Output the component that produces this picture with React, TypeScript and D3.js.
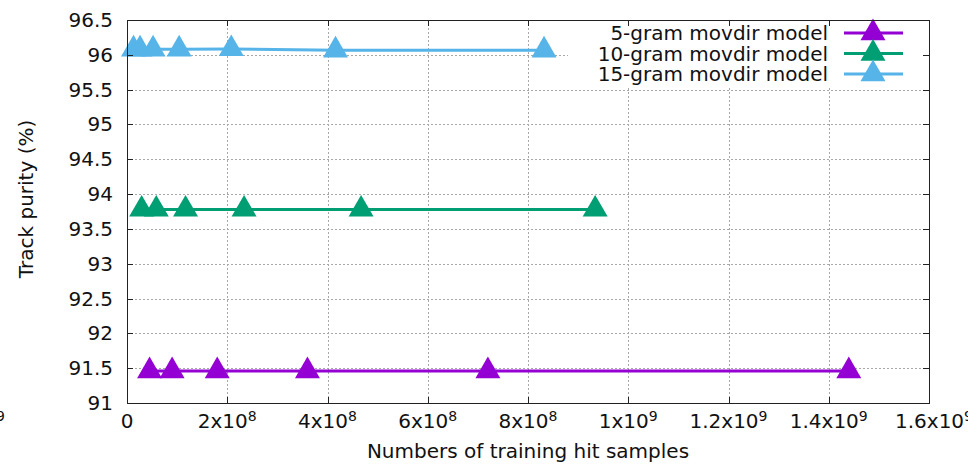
import React, { useEffect, useRef } from 'react';
import * as d3 from 'd3';

// training hit samples per model, doubling each step
const fiveGramX = [4.5e7, 9e7, 1.8e8, 3.6e8, 7.2e8, 1.44e9];
const fiveGramY = [91.46, 91.46, 91.46, 91.46, 91.46, 91.46];

const tenGramX = [2.92e7, 5.84e7, 1.168e8, 2.336e8, 4.67e8, 9.34e8];
const tenGramY = [93.78, 93.78, 93.78, 93.78, 93.78, 93.78];

const fifteenGramX = [1.3e7, 2.6e7, 5.2e7, 1.04e8, 2.08e8, 4.16e8, 8.32e8];
const fifteenGramY = [96.08, 96.08, 96.08, 96.08, 96.085, 96.065, 96.065];

const seriesNames = ['5-gram movdir model', '10-gram movdir model', '15-gram movdir model'];
const seriesColors = ['#9400d3', '#009e73', '#56b4e9'];

const xTickValues = [0, 2e8, 4e8, 6e8, 8e8, 1e9, 1.2e9, 1.4e9, 1.6e9];
const xTickMantissa = ['0', '2', '4', '6', '8', '1', '1.2', '1.4', '1.6'];
const xTickExponent = ['', '8', '8', '8', '8', '9', '9', '9', '9'];

export default function App() {
  const ref = useRef<SVGSVGElement | null>(null);

  useEffect(() => {
    const svgWidth = 968;
    const svgHeight = 464;
    const left = 127;
    const right = 929;
    const top = 20;
    const bottom = 403;
    const font = 'DejaVu Sans, Verdana, sans-serif';

    const svg = d3.select(ref.current);
    svg.selectAll('*').remove();
    svg.attr('width', svgWidth).attr('height', svgHeight);

    const x = d3.scaleLinear().domain([0, 1.6e9]).range([left, right]);
    const y = d3.scaleLinear().domain([91, 96.5]).range([bottom, top]);
    const yTicks = y.ticks(11);

    // grid
    const grid = svg.append('g')
      .attr('stroke', '#a8a8a8')
      .attr('stroke-width', 1)
      .attr('stroke-dasharray', '2,2');
    grid.selectAll('line.gx')
      .data(xTickValues.slice(1, -1))
      .enter()
        .append('line')
        .attr('x1', d => Math.round(x(d)) + 0.5)
        .attr('x2', d => Math.round(x(d)) + 0.5)
        .attr('y1', top)
        .attr('y2', bottom);
    grid.selectAll('line.gy')
      .data(yTicks.slice(1, -1))
      .enter()
        .append('line')
        .attr('x1', left)
        .attr('x2', right)
        .attr('y1', d => Math.round(y(d)) + 0.5)
        .attr('y2', d => Math.round(y(d)) + 0.5);

    // ticks (inside, mirrored)
    const ticks = svg.append('g').attr('stroke', '#222').attr('stroke-width', 1);
    xTickValues.forEach(v => {
      const px = Math.round(x(v)) + 0.5;
      ticks.append('line').attr('x1', px).attr('x2', px).attr('y1', bottom).attr('y2', bottom - 6);
      ticks.append('line').attr('x1', px).attr('x2', px).attr('y1', top).attr('y2', top + 6);
    });
    yTicks.forEach(v => {
      const py = Math.round(y(v)) + 0.5;
      ticks.append('line').attr('x1', left).attr('x2', left + 6).attr('y1', py).attr('y2', py);
    });

    // series
    const series = [
      { xs: fiveGramX, ys: fiveGramY },
      { xs: tenGramX, ys: tenGramY },
      { xs: fifteenGramX, ys: fifteenGramY },
    ];
    const line = d3.line<[number, number]>().x(d => x(d[0])).y(d => y(d[1]));
    const tri = d3.symbol().type(d3.symbolTriangle).size(270);

    series.forEach((s, i) => {
      const pts: [number, number][] = s.xs.map((v, j) => [v, s.ys[j]]);
      svg.append('path')
        .datum(pts)
        .attr('d', line)
        .attr('fill', 'none')
        .attr('stroke', seriesColors[i])
        .attr('stroke-width', 3);
      svg.append('g')
        .selectAll('path')
        .data(pts)
        .enter()
          .append('path')
          .attr('d', tri)
          .attr('fill', seriesColors[i])
          .attr('transform', d => `translate(${x(d[0])}, ${y(d[1])})`);
    });

    // legend box hides grid
    svg.append('rect')
      .attr('x', 568)
      .attr('y', top)
      .attr('width', right - 568)
      .attr('height', 66)
      .attr('fill', 'white');

    seriesNames.forEach((name, i) => {
      const ly = 33 + i * 20.5;
      svg.append('text')
        .text(name)
        .attr('x', 828)
        .attr('y', ly)
        .attr('text-anchor', 'end')
        .attr('dominant-baseline', 'central')
        .attr('font-family', font)
        .attr('font-size', '20px')
        .attr('fill', '#111');
      svg.append('line')
        .attr('x1', 844)
        .attr('x2', 903)
        .attr('y1', ly)
        .attr('y2', ly)
        .attr('stroke', seriesColors[i])
        .attr('stroke-width', 3);
      svg.append('path')
        .attr('d', tri)
        .attr('fill', seriesColors[i])
        .attr('transform', `translate(873, ${ly})`);
    });

    // right ticks drawn over the legend
    yTicks.forEach(v => {
      const py = Math.round(y(v)) + 0.5;
      ticks.raise();
      ticks.append('line').attr('x1', right - 6).attr('x2', right).attr('y1', py).attr('y2', py);
    });

    // border
    svg.append('rect')
      .attr('x', left + 0.5)
      .attr('y', top + 0.5)
      .attr('width', right - left)
      .attr('height', bottom - top)
      .attr('fill', 'none')
      .attr('stroke', '#222')
      .attr('stroke-width', 1);

    // y tick labels
    svg.append('g')
      .selectAll('text')
      .data(yTicks)
      .enter()
        .append('text')
        .text(d => d3.format('')(d))
        .attr('x', 113)
        .attr('y', d => y(d))
        .attr('text-anchor', 'end')
        .attr('dominant-baseline', 'central')
        .attr('font-family', font)
        .attr('font-size', '20px')
        .attr('fill', '#111');

    // x tick labels with superscript exponents (last one runs off the right edge and wraps to the left)
    const drawXLabel = (i: number, cx: number) => {
      const t = svg.append('text')
        .attr('x', cx)
        .attr('y', 428)
        .attr('text-anchor', 'middle')
        .attr('font-family', font)
        .attr('font-size', '20px')
        .attr('fill', '#111');
      t.append('tspan').text(xTickExponent[i] ? `${xTickMantissa[i]}x10` : xTickMantissa[i]);
      if (xTickExponent[i]) {
        t.append('tspan')
          .text(xTickExponent[i])
          .attr('font-size', '14px')
          .attr('dy', -7);
      }
    };
    const last = xTickValues.length - 1;
    xTickValues.forEach((v, i) => drawXLabel(i, x(v) + (i === last ? 5 : 0)));
    drawXLabel(last, x(xTickValues[last]) + 5 - svgWidth);

    // axis titles
    svg.append('text')
      .text('Numbers of training hit samples')
      .attr('x', 528)
      .attr('y', 458)
      .attr('text-anchor', 'middle')
      .attr('font-family', font)
      .attr('font-size', '20px')
      .attr('fill', '#111');

    svg.append('text')
      .text('Track purity (%)')
      .attr('transform', 'translate(26, 199) rotate(-90)')
      .attr('text-anchor', 'middle')
      .attr('dominant-baseline', 'central')
      .attr('font-family', font)
      .attr('font-size', '20px')
      .attr('fill', '#111');
  }, []);

  return (
    <svg
      ref={ref}
      style={{ position: 'absolute', left: 0, top: 0, background: 'white' }}
    />
  );
}
